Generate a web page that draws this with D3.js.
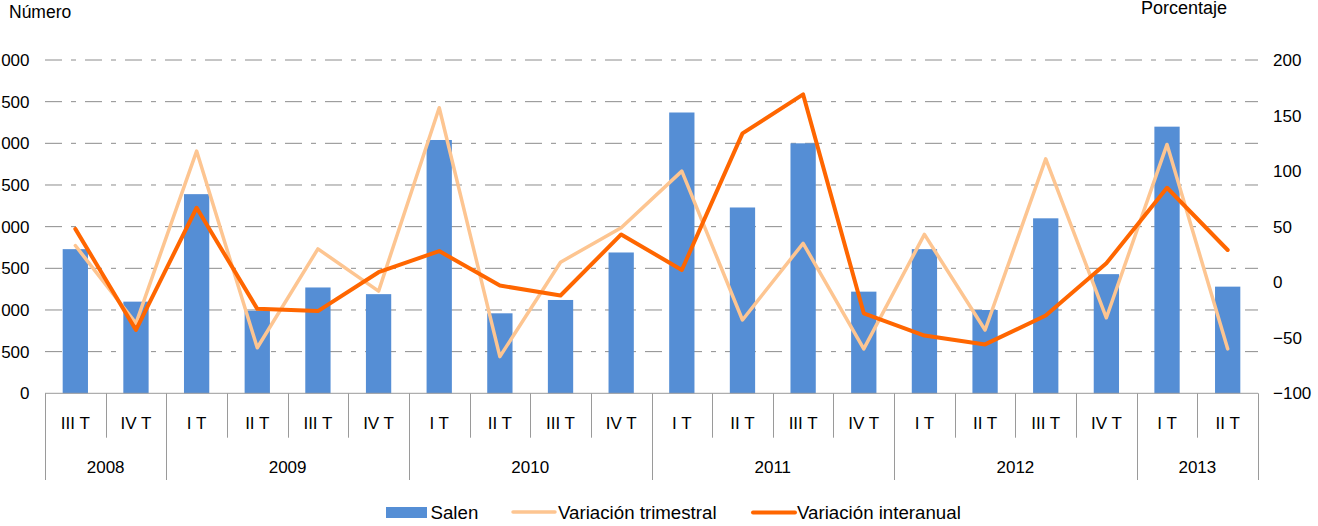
<!DOCTYPE html>
<html>
<head>
<meta charset="utf-8">
<script src="https://cdn.jsdelivr.net/npm/d3@7"></script>
<style>
  html, body { margin: 0; padding: 0; background: #fff; }
  svg { display: block; }
  text { font-family: "Liberation Sans", Arial, sans-serif; fill: #000; }
</style>
</head>
<body>
<svg id="chart" width="1318" height="526"></svg>
<script>
// ---- data ----
const quarters = ["III T","IV T","I T","II T","III T","IV T","I T","II T","III T","IV T",
                  "I T","II T","III T","IV T","I T","II T","III T","IV T","I T","II T"];
const years = ["2008","2009","2010","2011","2012","2013"];
const quartersPerYear = [2,4,4,4,4,2];
const salen = [1730,1100,2390,990,1270,1190,3040,960,1120,1690,
               3370,2230,3000,1220,1730,1000,2100,1430,3200,1280];
const variacionTrimestral = [33,-37,118,-59,30,-8,157,-67,18,49,
                             100,-34,35,-60,43,-43,111,-32,124,-60];
const variacionInteranual = [48,-43,67,-24,-26,9,28,-3,-12,43,
                             11,134,169,-28,-48,-56,-30,17,85,29];
const leftTicks = [0,500,1000,1500,2000,2500,3000,3500,4000];
const rightTicks = [-100,-50,0,50,100,150,200];
const seriesNames = ["Salen","Variación trimestral","Variación interanual"];

// ---- layout ----
const svg = d3.select("#chart");
const L = 45, R = 1258, T = 60, B = 393.3;
const colBar = "#558ED5", colTri = "#FDC591", colInt = "#FF6600";

const x = d3.scaleBand().domain(d3.range(quarters.length)).range([L, R]);
const yL = d3.scaleLinear().domain([0, 4000]).range([B, T]);
const yR = d3.scaleLinear().domain([-100, 200]).range([B, T]);

// gridlines
svg.append("g").selectAll("line").data(leftTicks.filter(d => d > 0)).join("line")
  .attr("x1", L).attr("x2", R)
  .attr("y1", d => yL(d)).attr("y2", d => yL(d))
  .attr("stroke", "#8c8c8c").attr("stroke-width", 1)
  .attr("stroke-dasharray", "17,9,5,9");

// left axis labels
const leftFmt = d3.formatLocale({decimal: ",", thousands: ".", grouping: [3], currency: ["", "€"]}).format(",d");
svg.append("g").selectAll("text").data(leftTicks).join("text")
  .attr("x", 29.5).attr("y", d => yL(d)).attr("dy", "0.36em")
  .attr("text-anchor", "end").attr("font-size", 17)
  .text(d => leftFmt(d));

// right axis labels
svg.append("g").selectAll("text").data(rightTicks).join("text")
  .attr("x", 1273).attr("y", d => yR(d)).attr("dy", "0.36em")
  .attr("text-anchor", "start").attr("font-size", 17)
  .text(d => d3.format("d")(d));

// bars
const bw = x.bandwidth() * 0.417;
svg.append("g").selectAll("rect").data(salen).join("rect")
  .attr("x", (d, i) => x(i) + (x.bandwidth() - bw) / 2)
  .attr("width", bw)
  .attr("y", d => yL(d))
  .attr("height", d => yL(0) - yL(d))
  .attr("fill", colBar);

// category axis
const axisCol = "#9a9a9a";
svg.append("line").attr("x1", L).attr("x2", R).attr("y1", B).attr("y2", B)
  .attr("stroke", axisCol).attr("stroke-width", 1);

// year boundaries
const yearStarts = [];
let acc = 0;
quartersPerYear.forEach(n => { yearStarts.push(acc); acc += n; });
const yearBoundary = new Set([...yearStarts, quarters.length]);
const bounds = d3.range(quarters.length + 1);
const bx = i => i < quarters.length ? x(i) : x(quarters.length - 1) + x.bandwidth();
svg.append("g").selectAll("line").data(bounds).join("line")
  .attr("x1", i => Math.round(bx(i)) + 0.5).attr("x2", i => Math.round(bx(i)) + 0.5)
  .attr("y1", B).attr("y2", i => yearBoundary.has(i) ? 480 : 437.7)
  .attr("stroke", axisCol).attr("stroke-width", 1);

// quarter labels
svg.append("g").selectAll("text").data(quarters).join("text")
  .attr("x", (d, i) => x(i) + x.bandwidth() / 2).attr("y", 423).attr("dy", "0.36em")
  .attr("text-anchor", "middle").attr("font-size", 17)
  .text(d => d);

// year labels
svg.append("g").selectAll("text").data(years).join("text")
  .attr("x", (d, i) => {
    const s = yearStarts[i], e = s + quartersPerYear[i];
    return (bx(s) + bx(e)) / 2;
  })
  .attr("y", 467).attr("dy", "0.36em")
  .attr("text-anchor", "middle").attr("font-size", 17)
  .text(d => d);

// lines
const lineGen = d3.line().x((d, i) => x(i) + x.bandwidth() / 2).y(d => yR(d));
svg.append("path").datum(variacionTrimestral).attr("d", lineGen)
  .attr("fill", "none").attr("stroke", colTri).attr("stroke-width", 3.5)
  .attr("stroke-linejoin", "round").attr("stroke-linecap", "round");
svg.append("path").datum(variacionInteranual).attr("d", lineGen)
  .attr("fill", "none").attr("stroke", colInt).attr("stroke-width", 4)
  .attr("stroke-linejoin", "round").attr("stroke-linecap", "round");

// axis titles
svg.append("text").attr("x", 9).attr("y", 18).attr("font-size", 17.5).text("Número");
svg.append("text").attr("x", 1227).attr("y", 13.5).attr("font-size", 18)
  .attr("text-anchor", "end").text("Porcentaje");

// legend
const leg = svg.append("g");
const legX = [386, 513, 753];
const legFont = 18.7;
// Salen
leg.append("rect").attr("x", legX[0]).attr("y", 507).attr("width", 41).attr("height", 11).attr("fill", colBar);
leg.append("text").attr("x", legX[0] + 44.5).attr("y", 519).attr("font-size", legFont).text(seriesNames[0]);
// trimestral
leg.append("line").attr("x1", legX[1]).attr("x2", legX[1] + 42).attr("y1", 512).attr("y2", 512)
  .attr("stroke", colTri).attr("stroke-width", 3.5).attr("stroke-linecap", "round");
leg.append("text").attr("x", legX[1] + 45).attr("y", 519).attr("font-size", legFont).text(seriesNames[1]);
// interanual
leg.append("line").attr("x1", legX[2]).attr("x2", legX[2] + 42).attr("y1", 512.5).attr("y2", 512.5)
  .attr("stroke", colInt).attr("stroke-width", 4).attr("stroke-linecap", "round");
leg.append("text").attr("x", legX[2] + 44).attr("y", 519).attr("font-size", legFont).text(seriesNames[2]);
</script>
</body>
</html>
